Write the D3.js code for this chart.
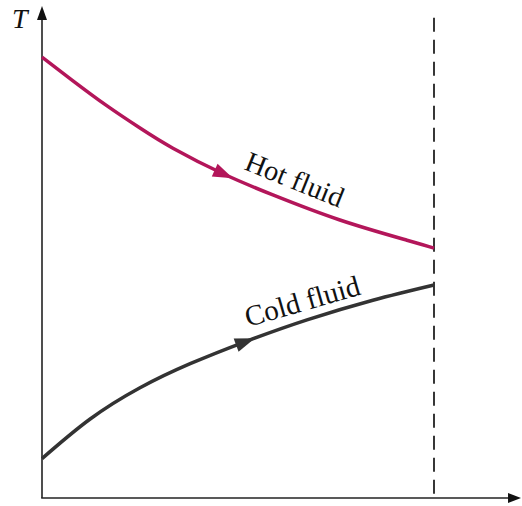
<!DOCTYPE html>
<html>
<head>
<meta charset="utf-8">
<script src="https://cdn.jsdelivr.net/npm/d3@7"></script>
<style>
  html, body { margin: 0; padding: 0; background: #fff; }
  svg { display: block; }
</style>
</head>
<body>
<svg id="chart" width="522" height="506"></svg>
<script>
// Data (x = position along exchanger, 0..1 ; T = temperature, arbitrary units)
const hotX  = [0, 0.079, 0.166, 0.25, 0.334, 0.462, 0.589, 0.760, 0.931, 1];
const hotT  = [89.6, 84.8, 79.7, 75.2, 71.1, 65.9, 61.6, 56.5, 52.4, 50.8];
const coldX = [0, 0.122, 0.25, 0.378, 0.523, 0.676, 0.844, 1];
const coldT = [8.0, 16.0, 22.4, 27.3, 31.9, 36.2, 40.2, 43.3];
const seriesNames = ["Hot fluid", "Cold fluid"];
const axisLabel = "T";
const arrowAt = [0.487, 0.543];   // x position of flow-direction arrowheads
const endX = 1;                   // dashed end-of-exchanger line

const svg = d3.select("#chart");
const x = d3.scaleLinear().domain([0, 1]).range([42, 434]);
const y = d3.scaleLinear().domain([0, 100]).range([498, 6]);

const hotColor = "#b3165a", coldColor = "#333333";
const serif = "Liberation Serif, Times New Roman, serif";

// Axes
svg.append("line").attr("x1", x(0)).attr("y1", y(0)).attr("x2", x(0)).attr("y2", y(97.5))
  .attr("stroke", "#222").attr("stroke-width", 1.6);
svg.append("line").attr("x1", x(0) - 0.8).attr("y1", y(0)).attr("x2", x(1.195)).attr("y2", y(0))
  .attr("stroke", "#222").attr("stroke-width", 1.6);
// axis arrowheads
svg.append("path").attr("d", `M${x(0)},${y(100)} L${x(0)-5},${y(100)+14} L${x(0)+5},${y(100)+14} Z`).attr("fill", "#111");
svg.append("path").attr("d", `M${x(1.222)},${y(0)} L${x(1.222)-13},${y(0)-5} L${x(1.222)-13},${y(0)+5} Z`).attr("fill", "#111");

// T label
svg.append("text").attr("x", 12).attr("y", 28).text(axisLabel)
  .attr("font-family", serif)
  .attr("font-style", "italic").attr("font-size", 28).attr("fill", "#111");

// Dashed line
svg.append("line").attr("x1", x(endX)).attr("x2", x(endX)).attr("y1", y(97.6)).attr("y2", y(0))
  .attr("stroke", "#222").attr("stroke-width", 1.8).attr("stroke-dasharray", "14,8");

const line = d3.line().x(d => x(d[0])).y(d => y(d[1])).curve(d3.curveNatural);

const series = [
  { name: seriesNames[0], pts: hotX.map((v, i) => [v, hotT[i]]), color: hotColor, arrow: arrowAt[0] },
  { name: seriesNames[1], pts: coldX.map((v, i) => [v, coldT[i]]), color: coldColor, arrow: arrowAt[1] }
];

series.forEach(s => {
  const p = svg.append("path").attr("d", line(s.pts)).attr("fill", "none")
    .attr("stroke", s.color).attr("stroke-width", 3.5);
  const node = p.node();
  const L = node.getTotalLength();
  const tx = x(s.arrow);
  let lo = 0, hi = L;
  for (let k = 0; k < 40; k++) {
    const m = (lo + hi) / 2;
    if (node.getPointAtLength(m).x < tx) lo = m; else hi = m;
  }
  const tip = node.getPointAtLength(lo);
  const back = node.getPointAtLength(Math.max(0, lo - 6));
  const ang = Math.atan2(tip.y - back.y, tip.x - back.x) * 180 / Math.PI;
  svg.append("path").attr("d", "M0,0 L-20,-7 L-20,7 Z")
    .attr("fill", s.color)
    .attr("transform", `translate(${tip.x},${tip.y}) rotate(${ang})`);
});

// Labels
svg.append("text").text(seriesNames[0])
  .attr("transform", "translate(243,169) rotate(22)")
  .attr("font-family", serif)
  .attr("font-size", 28.5).attr("fill", "#111");
svg.append("text").text(seriesNames[1])
  .attr("transform", "translate(248,327) rotate(-16)")
  .attr("font-family", serif)
  .attr("font-size", 29).attr("fill", "#111");
</script>
</body>
</html>
